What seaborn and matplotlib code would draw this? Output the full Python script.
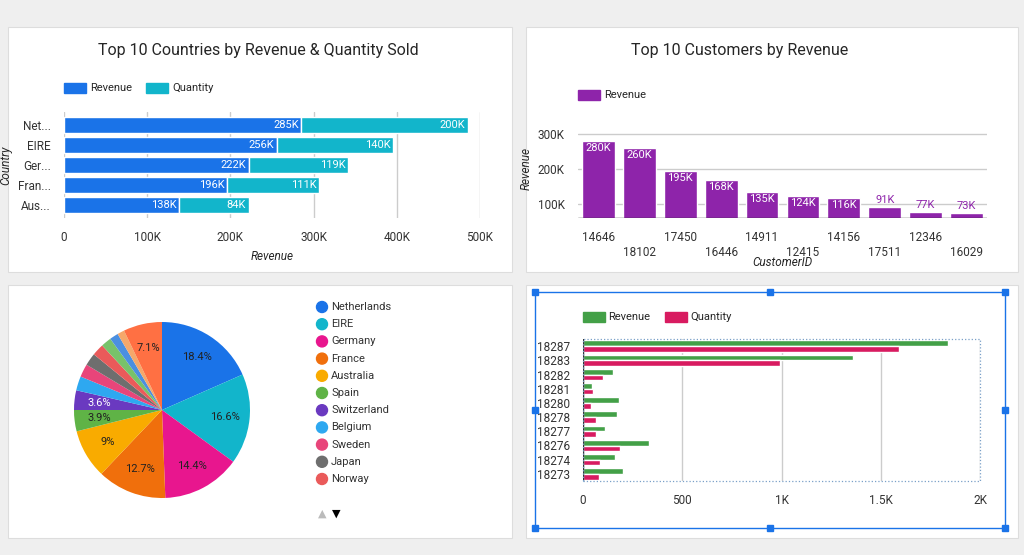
"""Dashboard recreation: country / customer revenue panels"""
import matplotlib
matplotlib.use("Agg")
import matplotlib.pyplot as plt
import numpy as np
import pandas as pd
import seaborn as sns
from matplotlib.patches import Rectangle
from matplotlib.ticker import FuncFormatter

sns.set_theme(style="whitegrid")
plt.rcParams['font.family'] = ['Roboto', 'DejaVu Sans']

countries = ["Net...", "EIRE", "Ger...", "Fran...", "Aus..."]
country_revenue = [285, 256, 222, 196, 138]
country_quantity = [200, 140, 119, 111, 84]

customers = ["14646", "18102", "17450", "16446", "14911", "12415", "14156", "17511", "12346", "16029"]
customer_revenue = [280, 260, 195, 168, 135, 124, 116, 91, 77, 73]

pie_labels = ["Netherlands", "EIRE", "Germany", "France", "Australia", "Spain", "Switzerland",
              "Belgium", "Sweden", "Japan", "Norway", "c12", "c13", "c14", "Others"]
pie_share = [18.4, 16.6, 14.4, 12.7, 9.0, 3.9, 3.6, 2.6, 2.4, 2.3, 2.2, 1.9, 1.6, 1.3, 7.1]
pie_colors = ["#1a73e8", "#12b5cb", "#e8168e", "#f06f0c", "#f9ab00", "#5fb346", "#6a39c0",
              "#2ea8f0", "#e8457a", "#6e6e6e", "#ea5a5a", "#78c26a", "#4b8fe0", "#f5a86a", "#ff7043"]

small_ids = ["18287", "18283", "18282", "18281", "18280", "18278", "18277", "18276", "18274", "18273"]
small_revenue = [1840, 1360, 150, 45, 180, 170, 110, 335, 160, 200]
small_quantity = [1590, 990, 100, 50, 40, 65, 65, 185, 85, 80]

W, H = 1024, 555
fig = plt.figure(figsize=(W / 100, H / 100), dpi=100, facecolor="#efefef")


def box(x0, y0, x1, y1):
    return [x0 / W, 1 - y1 / H, (x1 - x0) / W, (y1 - y0) / H]


for (x0, y0, x1, y1) in [(8, 27, 512, 272), (526, 27, 1018, 272), (8, 285, 512, 538), (526, 285, 1018, 538)]:
    fig.patches.append(Rectangle((x0 / W, 1 - y1 / H), (x1 - x0) / W, (y1 - y0) / H, zorder=-10,
                                 transform=fig.transFigure, facecolor="white", edgecolor="#dddddd", lw=0.8))

kfmt = FuncFormatter(lambda v, p: "0" if v == 0 else f"{int(v)}K")
tick_kw = dict(labelsize=8.5, colors="#333333")

# --- top left: stacked horizontal bars
ax1 = fig.add_axes(box(64, 112, 480, 218))
ax1.patch.set_alpha(0)
df1 = pd.DataFrame({"Country": countries, "Revenue": country_revenue, "Quantity": country_quantity})
sns.barplot(df1, y="Country", x="Revenue", color="#1a73e8", ax=ax1, width=0.8, saturation=1)
ax1.barh(np.arange(len(countries)), df1["Quantity"], left=df1["Revenue"], color="#12b5cb", height=0.8)
for i, (r, q) in enumerate(zip(country_revenue, country_quantity)):
    ax1.text(r - 3, i, f"{r}K", ha="right", va="center", color="white", fontsize=8)
    ax1.text(r + q - 3, i, f"{q}K", ha="right", va="center", color="white", fontsize=8)
ax1.set_xlim(0, 500)
ax1.set_xticks(range(0, 501, 100))
ax1.xaxis.set_major_formatter(kfmt)
ax1.grid(axis="y", visible=False)
ax1.tick_params(**tick_kw)
ax1.set_xlabel("Revenue", fontsize=8.5, style="italic")
ax1.set_ylabel("Country", fontsize=8.5, style="italic")
for s in ax1.spines.values():
    s.set_visible(False)
fig.text(258 / W, 1 - 51 / H, "Top 10 Countries by Revenue & Quantity Sold", ha="center", va="center", fontsize=11.5)
fig.patches.append(Rectangle((64 / W, 1 - 93 / H), 22 / W, 10 / H, transform=fig.transFigure, color="#1a73e8"))
fig.text(90 / W, 1 - 88 / H, "Revenue", va="center", fontsize=8)
fig.patches.append(Rectangle((146 / W, 1 - 93 / H), 22 / W, 10 / H, transform=fig.transFigure, color="#12b5cb"))
fig.text(172 / W, 1 - 88 / H, "Quantity", va="center", fontsize=8)

# --- top right: vertical bars
ax2 = fig.add_axes(box(578, 118, 987, 218))
ax2.patch.set_alpha(0)
df2 = pd.DataFrame({"CustomerID": customers, "Revenue": customer_revenue})
sns.barplot(df2, x="CustomerID", y="Revenue", color="#8e24aa", ax=ax2, width=0.8, saturation=1)
ax2.set_ylim(60, 345)
ax2.set_yticks([100, 200, 300])
ax2.yaxis.set_major_formatter(kfmt)
for i, v in enumerate(customer_revenue):
    inside = v > 110
    ax2.text(i, v - 6 if inside else v + 6, f"{v}K", ha="center", va="top" if inside else "bottom",
             color="white" if inside else "#8e24aa", fontsize=8)
ax2.set_xticks(range(len(customers)))
ax2.set_xticklabels([c if i % 2 == 0 else "\n" + c for i, c in enumerate(customers)])
ax2.grid(axis="x", visible=False)
ax2.tick_params(**tick_kw)
ax2.set_xlabel("CustomerID", fontsize=8.5, style="italic", labelpad=-2)
ax2.set_ylabel("Revenue", fontsize=8.5, style="italic")
for s in ax2.spines.values():
    s.set_visible(False)
ax2.axhline(60, color="#333333", lw=1)
fig.text(740 / W, 1 - 51 / H, "Top 10 Customers by Revenue", ha="center", va="center", fontsize=11.5)
fig.patches.append(Rectangle((578 / W, 1 - 100 / H), 22 / W, 10 / H, transform=fig.transFigure, color="#8e24aa"))
fig.text(604 / W, 1 - 95 / H, "Revenue", va="center", fontsize=8)

# --- bottom left: pie
ax3 = fig.add_axes(box(52, 300, 272, 520))
ax3.patch.set_alpha(0)
wedges, texts = ax3.pie(pie_share, colors=pie_colors, startangle=90, counterclock=False,
                        wedgeprops=dict(linewidth=0))
for w, v in zip(wedges, pie_share):
    if v >= 3.5:
        ang = np.deg2rad((w.theta1 + w.theta2) / 2)
        col = "white" if v == 3.6 else "#222222"
        ax3.text(0.72 * np.cos(ang), 0.72 * np.sin(ang), f"{v:g}%", ha="center", va="center",
                 fontsize=8, color=col)
ax3.set_aspect("equal")
for i, name in enumerate(pie_labels[:11]):
    y = 307 + i * 17.2
    fig.patches.append(matplotlib.patches.Ellipse((322 / W, 1 - y / H), 11 / W, 11 / H,
                                                  transform=fig.transFigure, color=pie_colors[i]))
    fig.text(331 / W, 1 - y / H, name, va="center", fontsize=8, color="#333333")
fig.text(322 / W, 1 - 514 / H, "▲", ha="center", va="center", fontsize=8, color="#bbbbbb")
fig.text(336 / W, 1 - 514 / H, "▼", ha="center", va="center", fontsize=8, color="black")

# --- bottom right: grouped horizontal bars
ax4 = fig.add_axes(box(583, 339, 980, 481))
ax4.patch.set_alpha(0)
df4 = pd.DataFrame({"ID": small_ids * 2, "Value": small_revenue + small_quantity,
                    "Series": ["Revenue"] * 10 + ["Quantity"] * 10})
sns.barplot(df4, y="ID", x="Value", hue="Series", palette=["#43a047", "#d81b60"], ax=ax4,
            width=0.8, saturation=1, legend=False)
ax4.set_xlim(0, 2000)
ax4.set_xticks(range(0, 2001, 500))
ax4.xaxis.set_major_formatter(FuncFormatter(lambda v, p: f"{v / 1000:g}K" if v >= 1000 else f"{int(v)}"))
ax4.grid(axis="y", visible=False)
ax4.tick_params(**tick_kw)
ax4.set_xlabel("")
ax4.set_ylabel("")
for s in ax4.spines.values():
    s.set_visible(False)
ax4.axvline(0, color="#333333", lw=1)
fig.patches.append(Rectangle((583 / W, 1 - 481 / H), 397 / W, 142 / H, transform=fig.transFigure,
                             fill=False, ls=":", ec="#7aa0c8", lw=0.9))
fig.patches.append(Rectangle((583 / W, 1 - 322 / H), 22 / W, 10 / H, transform=fig.transFigure, color="#43a047"))
fig.text(608 / W, 1 - 317 / H, "Revenue", va="center", fontsize=8)
fig.patches.append(Rectangle((665 / W, 1 - 322 / H), 22 / W, 10 / H, transform=fig.transFigure, color="#d81b60"))
fig.text(690 / W, 1 - 317 / H, "Quantity", va="center", fontsize=8)
# selection frame
fig.patches.append(Rectangle((535 / W, 1 - 528 / H), 470 / W, 236 / H, transform=fig.transFigure,
                             fill=False, ec="#1a73e8", lw=1))
for hx in (535, 770, 1005):
    for hy in (292, 410, 528):
        if hx == 770 and hy == 410:
            continue
        fig.patches.append(Rectangle(((hx - 3) / W, 1 - (hy + 3) / H), 6 / W, 6 / H,
                                     transform=fig.transFigure, color="#1a73e8"))

fig.savefig("out.png", dpi=100, facecolor=fig.get_facecolor())
